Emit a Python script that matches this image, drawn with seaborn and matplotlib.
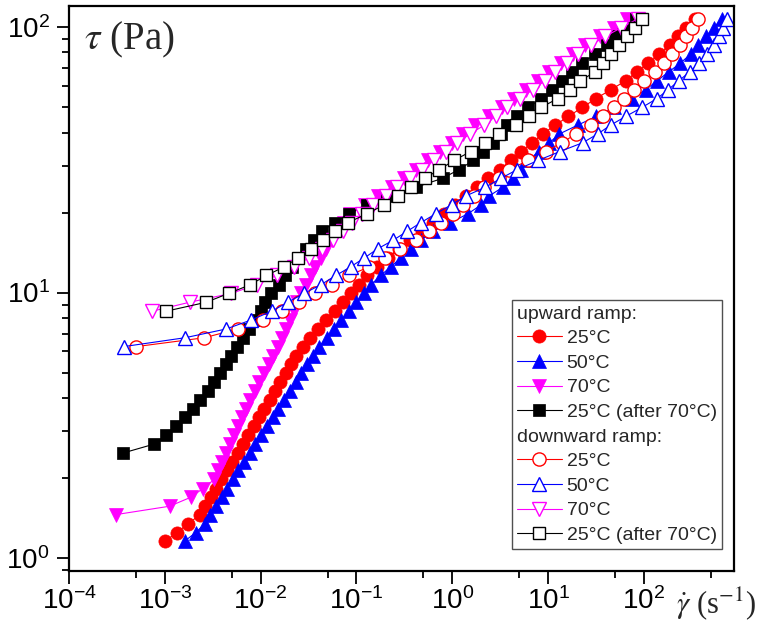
import matplotlib
matplotlib.use("Agg")
import matplotlib.pyplot as plt
from matplotlib.lines import Line2D
from matplotlib.ticker import LogLocator, NullFormatter
import seaborn as sns

# stress levels of the ramps (Pa), shared by every curve
tau_levels = [1.16, 1.25, 1.35, 1.46, 1.57, 1.70, 1.83, 1.98, 2.14, 2.31,
              2.49, 2.69, 2.90, 3.14, 3.39, 3.66, 3.95, 4.27, 4.60, 4.97,
              5.37, 5.79, 6.26, 6.76, 7.29, 7.88, 8.51, 9.19, 9.93, 10.7,
              11.6, 12.5, 13.5, 14.6, 15.7, 17.0, 18.3, 19.8, 21.4, 23.1,
              24.9, 26.9, 29.0, 31.4, 33.9, 36.6, 39.5, 42.7, 46.0, 49.7,
              53.7, 57.9, 62.6, 67.6, 72.9, 78.8, 85.1, 91.9, 99.3, 107.0]

# shear rate (1/s), upward ramp
up_25 = [1.00e-3, 1.34e-3, 1.76e-3, 2.33e-3, 2.65e-3, 3.01e-3, 3.43e-3, 3.90e-3, 4.44e-3, 5.05e-3,
         5.74e-3, 6.53e-3, 7.43e-3, 8.43e-3, 9.57e-3, 1.09e-2, 1.24e-2, 1.41e-2, 1.60e-2, 1.82e-2,
         2.07e-2, 2.34e-2, 2.74e-2, 3.31e-2, 4.01e-2, 4.86e-2, 5.90e-2, 7.18e-2, 8.69e-2, 0.106,
         0.128, 0.164, 0.215, 0.280, 0.366, 0.480, 0.625, 0.819, 1.07, 1.40,
         1.83, 2.38, 3.12, 4.06, 5.25, 6.81, 8.77, 11.9, 16.3, 22.7,
         31.6, 44.9, 64.4, 84.5, 111, 144, 185, 227, 277, 337]
up_50 = [1.61e-3, 2.10e-3, 2.62e-3, 2.99e-3, 3.43e-3, 3.93e-3, 4.50e-3, 5.14e-3, 5.87e-3, 6.73e-3,
         7.73e-3, 8.83e-3, 1.01e-2, 1.16e-2, 1.33e-2, 1.53e-2, 1.75e-2, 2.02e-2, 2.32e-2, 2.66e-2,
         3.05e-2, 3.51e-2, 4.09e-2, 4.88e-2, 5.83e-2, 6.97e-2, 8.32e-2, 9.93e-2, 0.119, 0.142,
         0.179, 0.228, 0.290, 0.369, 0.470, 0.625, 0.953, 1.46, 2.01, 2.43,
         3.37, 4.29, 5.16, 6.21, 7.94, 10.3, 13.1, 20.5, 31.9, 48.8,
         74.7, 104, 137, 181, 239, 306, 369, 446, 536, 647]
up_70 = [3.08e-4, 1.12e-3, 1.89e-3, 2.49e-3, 3.29e-3, 3.61e-3, 3.98e-3, 4.38e-3, 4.81e-3, 5.29e-3,
         5.81e-3, 6.39e-3, 7.03e-3, 7.74e-3, 8.68e-3, 9.69e-3, 1.08e-2, 1.22e-2, 1.36e-2, 1.51e-2,
         1.68e-2, 1.86e-2, 2.04e-2, 2.22e-2, 2.42e-2, 2.65e-2, 2.95e-2, 3.32e-2, 3.73e-2, 4.23e-2,
         4.84e-2, 5.57e-2, 6.41e-2, 7.34e-2, 8.60e-2, 0.122, 0.169, 0.232, 0.312, 0.416,
         0.555, 0.747, 0.986, 1.29, 1.74, 2.42, 3.32, 4.43, 5.91, 7.83,
         10.3, 13.7, 18.2, 24.1, 34.5, 48.9, 67.2]
up_25_after = [3.67e-4, 7.74e-4, 1.03e-3, 1.31e-3, 1.63e-3, 1.95e-3, 2.32e-3, 2.79e-3, 3.24e-3, 3.78e-3,
               4.36e-3, 4.91e-3, 5.71e-3, 6.51e-3, 7.52e-3, 8.98e-3, 9.98e-3, 1.12e-2, 1.28e-2, 1.54e-2,
               1.81e-2, 2.11e-2, 2.46e-2, 2.96e-2, 3.57e-2, 4.32e-2, 5.90e-2, 8.41e-2, 0.130, 0.210,
               0.416, 0.791, 1.17, 1.66, 2.10, 2.64, 3.25, 3.75, 4.76, 6.21,
               8.44, 11.1, 14.0, 17.7, 22.5, 30.9, 40.7, 50.4, 61.1, 82.8]

# shear rate (1/s), downward ramp
down_25 = [5.05e-4, 2.59e-3, 5.75e-3, 1.05e-2, 1.66e-2, 2.52e-2, 3.65e-2, 5.59e-2, 8.42e-2, 0.136,
           0.199, 0.285, 0.415, 0.567, 0.769, 1.01, 1.30, 1.67, 2.12, 3.07,
           3.93, 6.17, 9.44, 13.8, 19.6, 27.9, 37.1, 48.1, 61.8, 79.3,
           101, 129, 160, 198, 238, 275, 318, 363]
down_50 = [3.73e-4, 1.63e-3, 4.36e-3, 7.93e-3, 1.31e-2, 1.92e-2, 2.85e-2, 4.25e-2, 6.12e-2, 8.71e-2,
           0.121, 0.166, 0.239, 0.339, 0.466, 0.674, 0.981, 1.39, 2.21, 3.22,
           4.75, 7.83, 13.2, 22.9, 32.9, 45.1, 64.7, 95.3, 137, 178,
           231, 299, 376, 454, 532, 606, 672, 743]
down_70 = [7.42e-4, 1.81e-3, 4.95e-3, 9.11e-3, 1.47e-2, 2.23e-2, 3.19e-2, 4.35e-2, 5.66e-2, 7.15e-2,
           9.00e-2, 0.114, 0.148, 0.204, 0.263, 0.360, 0.481, 0.638, 0.850, 1.12,
           1.54, 2.16, 2.83, 3.72, 5.03, 6.90, 9.26, 11.8, 15.7, 20.7,
           27.8, 39.4, 58.1, 85.8]
down_25_after = [1.04e-3, 2.70e-3, 4.66e-3, 7.80e-3, 1.15e-2, 1.77e-2, 2.45e-2, 3.36e-2, 4.52e-2, 6.04e-2,
                 8.12e-2, 0.129, 0.196, 0.273, 0.373, 0.514, 0.733, 1.04, 1.55, 2.19,
                 3.10, 4.57, 6.29, 8.44, 12.6, 16.9, 21.7, 30.7, 37.3, 45.6,
                 55.4, 66.9, 79.7, 94.6]

labels = ["25°C", "50°C", "70°C", "25°C (after 70°C)"]
colors = ["#ff0000", "#0000ff", "#ff00ff", "#000000"]
markers = ["o", "^", "v", "s"]
sizes = [9.5, 10.5, 10.5, 9.0]

# (shear rates, first stress level index, filled?)
curves = [(up_25, 0, True), (up_50, 0, True), (up_70, 3, True), (up_25_after, 10, True),
          (down_25, 22, False), (down_50, 22, False), (down_70, 26, False), (down_25_after, 26, False)]

sns.set_style("ticks")
plt.rcParams["font.family"] = ["Liberation Sans", "DejaVu Sans"]
plt.rcParams["mathtext.fontset"] = "custom"
plt.rcParams["mathtext.rm"] = "Liberation Sans"
plt.rcParams["mathtext.it"] = "Liberation Sans:italic"
plt.rcParams["mathtext.bf"] = "Liberation Sans:bold"
plt.rcParams["axes.unicode_minus"] = False

fig = plt.figure(figsize=(7.58, 6.23), dpi=100)
ax = fig.add_axes([0.091, 0.0835, 0.8773, 0.9069])
ax.set_xscale("log")
ax.set_yscale("log")

for n, (gamma, start, filled) in enumerate(curves):
    j = n % 4
    sns.lineplot(x=gamma, y=tau_levels[start:], ax=ax, estimator=None, sort=False,
                 color=colors[j], linewidth=0.8, marker=markers[j], markersize=sizes[j],
                 markerfacecolor=colors[j] if filled else "white",
                 markeredgecolor=colors[j], markeredgewidth=0.5 if filled else 1.0,
                 label=labels[j])

ax.set_xlim(1e-4, 869)
ax.set_ylim(0.896, 119.7)
ax.xaxis.set_major_locator(LogLocator(base=10, numticks=15))
ax.xaxis.set_minor_locator(LogLocator(base=10, subs=[5.0], numticks=15))
ax.xaxis.set_minor_formatter(NullFormatter())
ax.yaxis.set_major_locator(LogLocator(base=10, numticks=15))
ax.yaxis.set_minor_locator(LogLocator(base=10, subs=range(2, 10), numticks=15))
ax.yaxis.set_minor_formatter(NullFormatter())
ax.tick_params(which="both", direction="out", top=False, right=False, colors="black", width=1.3)
ax.tick_params(which="major", length=9, labelsize=20)
ax.tick_params(axis="x", which="major", pad=3)
ax.tick_params(axis="y", which="major", pad=5)
ax.tick_params(which="minor", length=5)
for s in ax.spines.values():
    s.set_color("black")
    s.set_linewidth(1.6)
ax.set_xlabel("")
ax.set_ylabel("")

# axis titles in serif, as in the original
ax.text(0.022, 0.94, r"$\tau$ (Pa)", transform=ax.transAxes, fontsize=28,
        family="Liberation Serif", math_fontfamily="stix", va="center", ha="left")
fig.text(0.892, 0.031, r"$\dot{\gamma}$ (s$^{-1}$)", fontsize=22,
         family="Liberation Serif", math_fontfamily="stix", va="center", ha="left")

# legend with two header rows
lines = ax.get_lines()
head = Line2D([], [], linestyle="none", marker="")
handles = [head] + lines[:4] + [head] + lines[4:8]
texts = ["upward ramp:"] + labels + ["downward ramp:"] + labels
leg = ax.legend(handles, texts, loc="lower right", bbox_to_anchor=(0.9815, 0.039),
                borderaxespad=0, fontsize=14, frameon=True, fancybox=False,
                edgecolor="#505050", framealpha=1, handlelength=2.3,
                handletextpad=0.26, borderpad=0.25, labelspacing=0.36)
leg.get_frame().set_linewidth(1.0)
for column in leg._legend_handle_box.get_children():
    for row in column.get_children():
        area, text = row.get_children()
        if text.get_text().endswith("ramp:"):
            area.set_width(0)
            row.sep = 0

fig.savefig("out.png", dpi=100)
